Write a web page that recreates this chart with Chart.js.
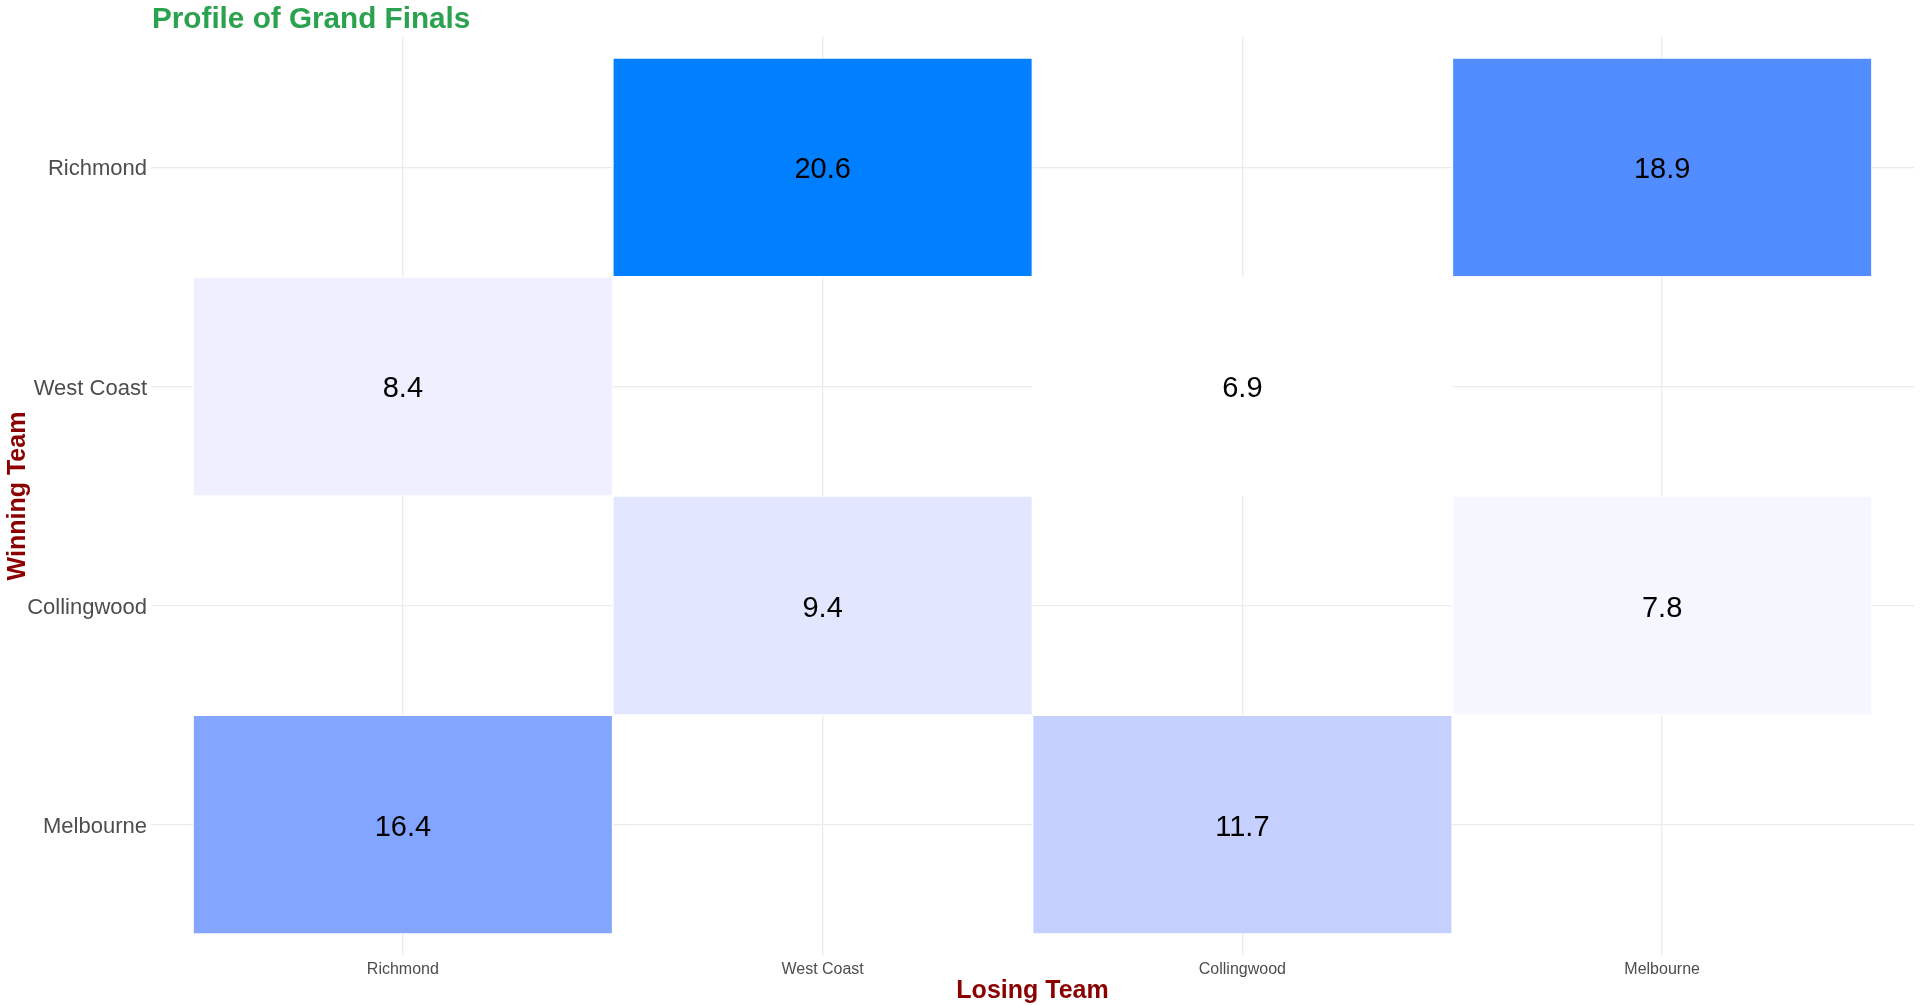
<!DOCTYPE html>
<html>
<head>
<meta charset="utf-8">
<title>Profile of Grand Finals</title>
<script src="https://cdn.jsdelivr.net/npm/chart.js@4.4.1/dist/chart.umd.min.js"></script>
<style>
  html, body { margin: 0; padding: 0; background: #fff; }
  #wrap { width: 1920px; height: 1005px; position: relative; }
</style>
</head>
<body>
<div id="wrap"><canvas id="myChart"></canvas></div>
<script>
// team order on both axes
const teams = ['Richmond', 'West Coast', 'Collingwood', 'Melbourne'];

// one entry per tile
const winningTeam = ['Richmond', 'Richmond', 'West Coast', 'West Coast', 'Collingwood', 'Collingwood', 'Melbourne', 'Melbourne'];
const losingTeam = ['West Coast', 'Melbourne', 'Richmond', 'Collingwood', 'West Coast', 'Melbourne', 'Richmond', 'Collingwood'];
const margin = [20.6, 18.9, 8.4, 6.9, 9.4, 7.8, 16.4, 11.7];

const FONT = "'Liberation Sans', Arial, sans-serif";

// colour scale: white -> azure, interpolated in Lab like ggplot's scale_fill_gradient
function srgbToLin(c) {
  c /= 255;
  return c <= 0.04045 ? c / 12.92 : Math.pow((c + 0.055) / 1.055, 2.4);
}
function linToSrgb(c) {
  c = Math.min(1, Math.max(0, c));
  const v = c <= 0.0031308 ? 12.92 * c : 1.055 * Math.pow(c, 1 / 2.4) - 0.055;
  return Math.round(v * 255);
}
function hexToLab(hex) {
  const r = srgbToLin(parseInt(hex.slice(1, 3), 16));
  const g = srgbToLin(parseInt(hex.slice(3, 5), 16));
  const b = srgbToLin(parseInt(hex.slice(5, 7), 16));
  const x = (0.4124 * r + 0.3576 * g + 0.1805 * b) / 0.95047;
  const y = (0.2126 * r + 0.7152 * g + 0.0722 * b);
  const z = (0.0193 * r + 0.1192 * g + 0.9505 * b) / 1.08883;
  const f = t => t > 0.008856 ? Math.cbrt(t) : 7.787 * t + 16 / 116;
  const fx = f(x), fy = f(y), fz = f(z);
  return [116 * fy - 16, 500 * (fx - fy), 200 * (fy - fz)];
}
function labToRgb(lab) {
  const fy = (lab[0] + 16) / 116;
  const fx = fy + lab[1] / 500;
  const fz = fy - lab[2] / 200;
  const inv = t => t * t * t > 0.008856 ? t * t * t : (t - 16 / 116) / 7.787;
  const x = inv(fx) * 0.95047, y = inv(fy), z = inv(fz) * 1.08883;
  const r = 3.2406 * x - 1.5372 * y - 0.4986 * z;
  const g = -0.9689 * x + 1.8758 * y + 0.0415 * z;
  const b = 0.0557 * x - 0.2040 * y + 1.0570 * z;
  return `rgb(${linToSrgb(r)}, ${linToSrgb(g)}, ${linToSrgb(b)})`;
}
function fillFor(v) {
  const lo = Math.min(...margin), hi = Math.max(...margin);
  const t = (v - lo) / (hi - lo);
  const a = hexToLab('#FFFFFF'), b = hexToLab('#007FFF');
  return labToRgb([0, 1, 2].map(i => a[i] + (b[i] - a[i]) * t));
}

// numeric positions for the tiles
const xPos = name => teams.indexOf(name) + 1;
const yPos = name => teams.length - teams.indexOf(name);

const tiles = margin.map((v, i) => ({
  x: xPos(losingTeam[i]),
  y: [yPos(winningTeam[i]) - 0.5, yPos(winningTeam[i]) + 0.5],
  v: v
}));

// title drawn aligned with the panel, like ggplot
const titlePlugin = {
  id: 'plotTitle',
  afterDraw(chart) {
    const ctx = chart.ctx;
    ctx.save();
    ctx.font = `bold 29.7px ${FONT}`;
    ctx.fillStyle = '#2AA24E';
    ctx.textAlign = 'left';
    ctx.textBaseline = 'alphabetic';
    ctx.fillText('Profile of Grand Finals', 152, 28);
    ctx.restore();
  }
};

// value in the middle of each tile
const labelPlugin = {
  id: 'tileLabels',
  afterDatasetsDraw(chart) {
    const ctx = chart.ctx;
    const meta = chart.getDatasetMeta(0);
    ctx.save();
    ctx.font = `29px ${FONT}`;
    ctx.fillStyle = '#000';
    ctx.textAlign = 'center';
    ctx.textBaseline = 'middle';
    meta.data.forEach((bar, i) => {
      ctx.fillText(margin[i].toFixed(1), bar.x, (bar.y + bar.base) / 2 + 3);
    });
    ctx.restore();
  }
};

const fixedTicks = () => teams.map((t, i) => ({ value: i + 1 }));

const ctx = document.getElementById('myChart').getContext('2d');
new Chart(ctx, {
  type: 'bar',
  data: {
    datasets: [{
      data: tiles,
      backgroundColor: tiles.map(t => fillFor(t.v)),
      borderColor: '#ffffff',
      borderWidth: 1.2,
      borderSkipped: false,
      barPercentage: 1,
      categoryPercentage: 1
    }]
  },
  options: {
    responsive: true,
    maintainAspectRatio: false,
    animation: false,
    layout: { padding: { left: 0, top: 36, right: 6, bottom: 0 } },
    plugins: {
      legend: { display: false },
      tooltip: { enabled: false },
      title: { display: false }
    },
    scales: {
      x: {
        type: 'linear',
        min: 0.4,
        max: 4.6,
        offset: false,
        afterBuildTicks: s => { s.ticks = fixedTicks(); },
        afterFit: s => { s.height = 49; },
        ticks: {
          autoSkip: false,
          maxRotation: 0,
          padding: 4,
          color: '#4D4D4D',
          font: { family: FONT, size: 16 },
          callback: v => teams[v - 1]
        },
        grid: { color: '#EBEBEB', lineWidth: 1.3, drawTicks: false, offset: false },
        border: { display: false },
        title: {
          display: true,
          text: 'Losing Team',
          color: '#8B0000',
          font: { family: FONT, size: 25, weight: 'bold' },
          padding: { top: 0, bottom: -1 }
        }
      },
      y: {
        type: 'linear',
        min: 0.4,
        max: 4.6,
        afterBuildTicks: s => { s.ticks = fixedTicks(); },
        afterFit: s => { s.width = 151; },
        ticks: {
          padding: 4,
          labelOffset: 2,
          color: '#4D4D4D',
          font: { family: FONT, size: 22 },
          callback: v => teams[teams.length - v]
        },
        grid: { color: '#EBEBEB', lineWidth: 1.3, drawTicks: false },
        border: { display: false },
        title: {
          display: true,
          text: 'Winning Team',
          color: '#8B0000',
          font: { family: FONT, size: 25, weight: 'bold' },
          padding: { top: 3, bottom: 0 }
        }
      }
    }
  },
  plugins: [titlePlugin, labelPlugin]
});
</script>
</body>
</html>
